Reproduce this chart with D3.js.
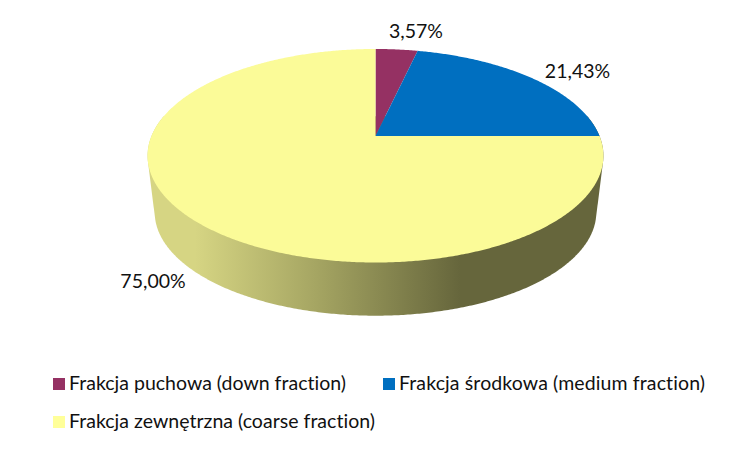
<!DOCTYPE html>
<html>
<head>
<meta charset="utf-8">
<script src="https://cdnjs.cloudflare.com/ajax/libs/d3/7.8.5/d3.min.js"></script>
<style>
html, body { margin: 0; padding: 0; background: #fff; }
svg { display: block; }
text { font-family: Lato, "Open Sans", sans-serif; fill: #111; font-variant-ligatures: none; }
</style>
</head>
<body>
<script>
var categories = ["Frakcja puchowa (down fraction)", "Frakcja środkowa (medium fraction)", "Frakcja zewnętrzna (coarse fraction)"];
var values = [3.57, 21.43, 75.00];
var valueLabels = ["3,57%", "21,43%", "75,00%"];
var topColors = ["#953163", "#006fc0", "#fbfb98"];
var legendColors = ["#953163", "#006fc0", "#ffff99"];

var svg = d3.select("body").append("svg").attr("width", 750).attr("height", 450);

// perspective disc: the far edge is foreshortened, so the apex sits above the ellipse middle
var k = 0.185;
function projector(cx, cy, a, b) {
    return function(angle, r) {
        var u = Math.sin(angle) * r, v = Math.cos(angle) * r, w = 1 + k * v;
        return [cx + a * u / w, cy - b * v / w];
    };
}
var upper = projector(375.5, 136, 224, 103.1);
var lower = projector(375.5, 193, 217, 100);

var grad = svg.append("defs").append("linearGradient")
    .attr("id", "side").attr("gradientUnits", "userSpaceOnUse")
    .attr("x1", 195).attr("x2", 460).attr("y1", 0).attr("y2", 0);
grad.append("stop").attr("offset", 0).attr("stop-color", "#d6d583");
grad.append("stop").attr("offset", 0.45).attr("stop-color", "#a6a663");
grad.append("stop").attr("offset", 1).attr("stop-color", "#66663c");

// wall: hull of the front part of both rims
var steps = d3.range(0, 720).map(function(i) { return i / 720 * 2 * Math.PI; })
    .filter(function(t) { return Math.cos(t) < 0.2; });
var rim = steps.map(function(t) { return upper(t, 1); }).concat(steps.map(function(t) { return lower(t, 1); }));
svg.append("path")
    .attr("d", "M" + d3.polygonHull(rim).join("L") + "Z")
    .attr("fill", "url(#side)");

var pie = d3.pie().sort(null);
var line = d3.line();
svg.selectAll("path.slice")
    .data(pie(values))
    .join("path")
    .attr("class", "slice")
    .attr("fill", function(d, i) { return topColors[i]; })
    .attr("d", function(d) {
        var n = Math.ceil((d.endAngle - d.startAngle) * 120);
        var pts = d3.range(n + 1).map(function(i) {
            return upper(d.startAngle + (d.endAngle - d.startAngle) * i / n, 1);
        });
        return line([upper(0, 0)].concat(pts)) + "Z";
    });

var labelPos = [[416, 38], [577.5, 78], [153, 288]];
svg.selectAll("text.val")
    .data(valueLabels)
    .join("text")
    .attr("class", "val")
    .attr("text-anchor", "middle")
    .attr("font-size", 19.5)
    .attr("x", function(d, i) { return labelPos[i][0]; })
    .attr("y", function(d, i) { return labelPos[i][1]; })
    .text(function(d) { return d; });

var legendPos = [[53, 390], [383, 390], [53, 428]];
var legendWidths = [277, 306, 306];
var legend = svg.selectAll("g.leg")
    .data(categories)
    .join("g")
    .attr("class", "leg")
    .attr("transform", function(d, i) { return "translate(" + legendPos[i] + ")"; });
legend.append("rect")
    .attr("x", 0).attr("y", -12).attr("width", 12).attr("height", 12)
    .attr("fill", function(d, i) { return legendColors[i]; });
legend.append("text")
    .attr("x", 16).attr("y", 0)
    .attr("font-size", 19.5)
    .attr("textLength", function(d, i) { return legendWidths[i]; })
    .text(function(d) { return d; });
</script>
</body>
</html>
